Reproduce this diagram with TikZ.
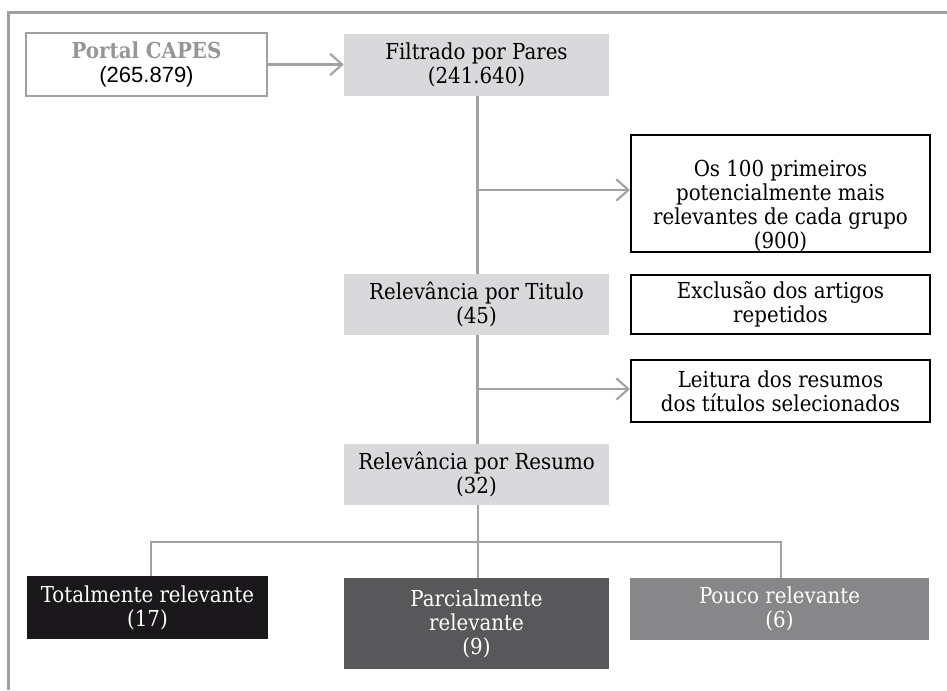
\documentclass[tikz,border=0pt]{standalone}
\usepackage{fontspec}
\setmainfont{DejaVu Serif Condensed}
\newfontfamily\numfont{Liberation Sans}
\usetikzlibrary{arrows.meta,positioning,calc}
\definecolor{FrameGray}{RGB}{160,160,160}
\definecolor{LineGray}{RGB}{162,162,162}
\definecolor{BoxGray}{RGB}{217,217,219}
\definecolor{TextGray}{RGB}{150,150,150}
\definecolor{TotalDark}{RGB}{26,24,27}
\definecolor{ParcialDark}{RGB}{88,88,90}
\definecolor{PoucoGray}{RGB}{135,135,137}
\tikzset{
  graybox/.style={rectangle, inner sep=0pt, align=center, fill=BoxGray,
    minimum width=198.75pt, minimum height=46pt},
  outbox/.style={rectangle, inner sep=0pt, align=center, draw=black, line width=1.6pt,
    fill=white, minimum width=224.25pt, minimum height=46.5pt},
  resbox/.style={rectangle, inner sep=0pt, align=center, text=white,
    minimum height=46.5pt},
  link/.style={draw=LineGray, line width=2pt},
  arrow/.style={link, -{Straight Barb[length=9pt, width=16pt, line width=1.6pt]}}
}
\begin{document}
\begin{tikzpicture}[x=0.75pt, y=-0.75pt,
    every node/.style={font=\fontsize{16.5pt}{18pt}\selectfont}]
  \useasboundingbox (0,0) rectangle (947,690);
  \draw[draw=FrameGray, line width=2pt] (947,12.5) -- (8.5,12.5) -- (8.5,690);
  % primeira linha
  \node[rectangle, inner sep=0pt, align=center, draw=FrameGray, line width=1.8pt,
    minimum width=180.75pt, minimum height=47.25pt] (portal) at (146.5,64.5)
    {\textcolor{TextGray}{\bfseries Portal CAPES}\\{\numfont (265.879)}};
  \node[graybox] (filtro) at (476.5,65) {Filtrado por Pares\\(241.640)};
  % coluna central
  \node[outbox, minimum height=81.75pt] (cem) at (780.5,193.5)
    {\rule{0pt}{31pt}Os 100 primeiros\\potencialmente mais\\relevantes de cada grupo\\(900)};
  \node[graybox] (titulo) at (476.5,304.5) {Relevância por Titulo\\(45)};
  \node[outbox, minimum height=44.25pt] (exclusao) at (780.5,304.5)
    {Exclusão dos artigos\\repetidos};
  \node[outbox] (leitura) at (780.5,391)
    {Leitura dos resumos\\dos títulos selecionados};
  \node[graybox] (resumo) at (476.5,474.5) {Relevância por Resumo\\(32)};
  % resultados
  \node[resbox, fill=TotalDark, minimum width=180.75pt, minimum height=47.25pt] (total)
    at (147.5,607.5) {Totalmente relevante\\(17)};
  \node[resbox, fill=ParcialDark, minimum width=198.75pt, minimum height=68.25pt] (parcial)
    at (476.5,623.5) {Parcialmente\\relevante\\(9)};
  \node[resbox, fill=PoucoGray, minimum width=224.25pt] (pouco)
    at (779.5,609) {Pouco relevante\\(6)};
  \coordinate (b1) at (477.5,190);
  \coordinate (b2) at (477.5,389);
  \coordinate (split) at (478,542);
  \draw[arrow] (portal) -- (portal -| filtro.west);
  \draw[link] (filtro.south -| b1) -- (titulo.north -| b1);
  \draw[arrow] (b1) -- (b1 -| cem.west);
  \draw[link] (titulo.south -| b2) -- (resumo.north -| b2);
  \draw[arrow] (b2) -- (b2 -| leitura.west);
  \draw[link] (resumo.south -| split) -- (split);
  \draw[link] (split) -| ([xshift=2.6pt]total.north);
  \draw[link] (split) -| ([xshift=1.1pt]pouco.north);
  \draw[link] (split) -- (parcial.north -| split);
\end{tikzpicture}
\end{document}
